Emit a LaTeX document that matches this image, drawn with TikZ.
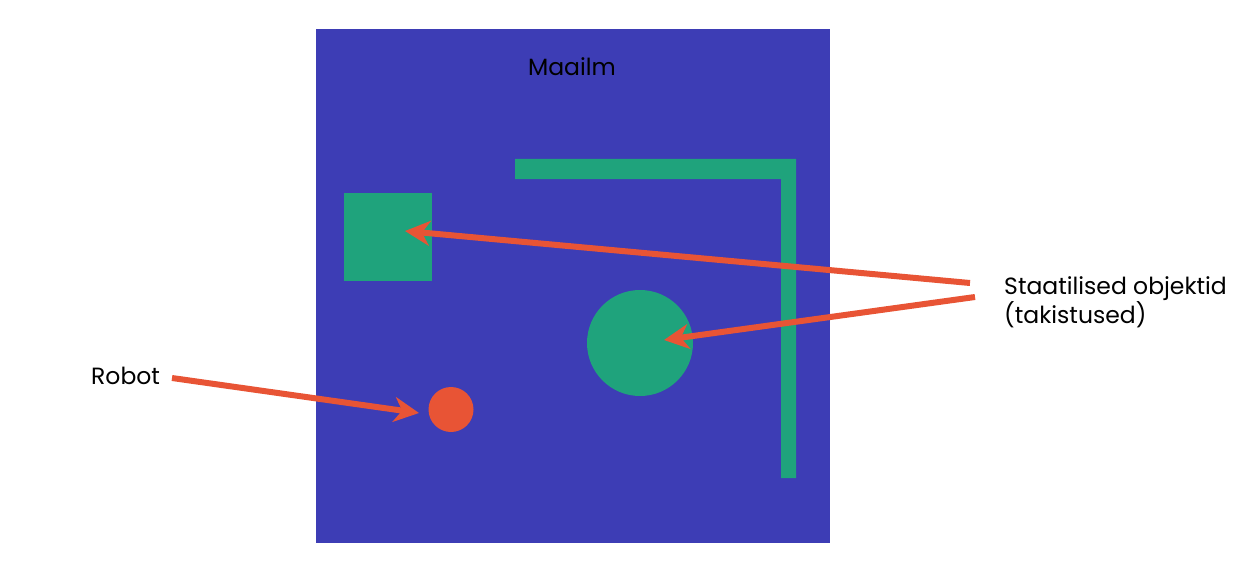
\documentclass[tikz,border=0pt]{standalone}
\usepackage{fontspec}
\setmainfont{Poppins}
\usetikzlibrary{arrows.meta}
\definecolor{worldblue}{HTML}{3D3DB5}
\definecolor{obstgreen}{HTML}{1FA37C}
\definecolor{robred}{HTML}{E85435}
\tikzset{
  obst/.style={fill=obstgreen, draw=none},
  lbl/.style={font=\fontsize{23.5}{27}\selectfont, text=black, inner sep=0pt},
  ptr/.style={draw=robred, line width=6pt, -{Stealth[length=25pt, width=25pt, inset=8pt]}},
}
\begin{document}
\begin{tikzpicture}[x=1pt,y=-1pt]
\useasboundingbox (0,0) rectangle (1245,567);
% world
\fill[worldblue] (316,29) rectangle (830,543);
\node[lbl, anchor=center] (world) at (572,67) {Maailm};
% static obstacles
\fill[obstgreen] (344,193) rectangle (432,281);
\fill[obstgreen] (515,159) -- (796,159) -- (796,478) -- (781,478) -- (781,179) -- (515,179) -- cycle;
\fill[obstgreen] (640,343) circle[radius=53];
% robot
\fill[robred] (451,409.5) circle[radius=22.5];
% targets
\coordinate (tsq) at (405,231);
\coordinate (tcirc) at (664,340);
\coordinate (trob) at (419,413);
\coordinate (s1) at (970,283);
\coordinate (s2) at (975,297);
\coordinate (s3) at (172,378);
% labels
\node[lbl, anchor=base west, align=left] (stat) at (1004,323.5) {Staatilised objektid\\(takistused)};
\node[lbl, anchor=base west] (robot) at (91,384) {Robot};
% arrows
\draw[ptr] (s1) -- (tsq);
\draw[ptr] (s2) -- (tcirc);
\draw[ptr] (s3) -- (trob);
\end{tikzpicture}
\end{document}
